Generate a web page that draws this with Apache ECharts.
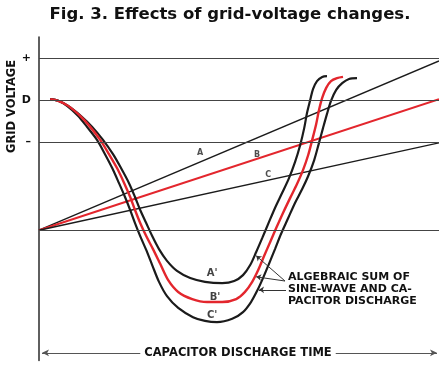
<!DOCTYPE html>
<html>
<head>
<meta charset="utf-8">
<script src="https://cdn.jsdelivr.net/npm/echarts@6/dist/echarts.min.js"></script>
<style>
  html, body { margin: 0; padding: 0; background: #fff; }
  #chart { width: 439px; height: 366px; }
</style>
</head>
<body>
<div id="chart"></div>
<script>
// Time axis: 0..100 (arbitrary units of capacitor discharge time)
// Voltage axis: D = 0, "+" = 10, "-" = -10, base line = -31

// Reference voltage levels and their labels
const levelValues = [10, 0, -10, -31];
const levelLabels = ['+', 'D', '\u2013', ''];

// Bias lines A, B, C (straight)
const biasX = [0, 100];
const biasA = [-31, 9.3];
const biasB = [-31, 0.2];
const biasC = [-31, -10.2];

// Sum curves A', B', C'
const curveAX = [2.8, 4.8, 7.3, 10.5, 13.3, 16, 18.5, 20.5, 22.5, 24, 25.3, 26.8, 28.3, 30, 32, 34.5, 37.8, 41.5, 45.8,
  48.8, 51, 52.8, 54.3, 55.8, 57.3, 59, 60.8, 62.5, 64, 65.3, 66.3, 67, 67.8, 68.5, 69.5, 70.8, 72];
const curveAY = [0.2, -0.2, -1.4, -3.8, -6.4, -9.5, -12.9, -16.2, -19.8, -23.1, -26.2, -29.3, -32.4, -35.5, -38.3, -40.7, -42.4, -43.3, -43.6,
  -43.1, -41.7, -39.3, -36.2, -32.9, -29.5, -25.7, -22.1, -18.6, -14.8, -10.7, -6.7, -3.1, 0, 2.6, 4.5, 5.5, 5.7];

const curveBX = [2.8, 4.8, 7.3, 10.3, 12.8, 15.3, 17.5, 19.5, 21.3, 22.8, 24, 25.3, 26.8, 28.5, 30.3, 32.3, 34.8, 38.3, 42, 45.8,
  49.3, 51.5, 53.3, 54.8, 56.3, 57.8, 59.3, 61, 62.8, 64.5, 66, 67.3, 68.3, 69.3, 70, 70.8, 71.8, 73, 74.5, 76];
const curveBY = [0.2, -0.2, -1.4, -3.8, -6.4, -9.5, -12.9, -16.2, -19.8, -23.1, -26.2, -29.3, -32.4, -35.5, -39, -42.9, -45.7, -47.4, -48.1, -48.1,
  -47.4, -45.7, -43.3, -40.5, -37.1, -33.8, -30.5, -26.9, -23.3, -20, -16.7, -13.1, -9.5, -5.7, -2.4, 0.5, 2.9, 4.5, 5.2, 5.5];

const curveCX = [2.8, 4.8, 7, 9.8, 12, 14.5, 16.5, 18.3, 20, 21.5, 22.8, 24, 25.3, 26.8, 28.3, 30, 32, 34.8, 38.5, 41.5, 44.5,
  48.3, 51, 53, 54.5, 56, 57.5, 59, 60.5, 62.3, 64, 65.8, 67.3, 68.8, 70, 71, 72, 73, 74.3, 75.8, 77.5, 79.5];
const curveCY = [0.2, -0.2, -1.4, -3.8, -6.4, -9.5, -12.9, -16.2, -19.8, -23.1, -26.2, -29.3, -32.4, -35.7, -39.3, -43.3, -46.7, -49.5, -51.7, -52.6, -52.9,
  -52.1, -50.5, -48.1, -45.5, -42.4, -39, -35.5, -31.9, -28.1, -24.5, -21.2, -18.1, -14.3, -10.2, -6.7, -3.3, -0.2, 2.4, 4, 5, 5.2];

// Letter labels on the lines and curves: [x, y, text]
const lineLetters = [[40.3, -12.6, 'A'], [54.5, -13.1, 'B'], [57.3, -17.9, 'C']];
const curveLetters = [[43.3, -41.2, "A'"], [44, -46.9, "B'"], [43.3, -51.2, "C'"]];

// Leader lines from the note to the curves: [fromX, fromY, toX, toY]
const leaders = [[61.5, -43.1, 54.3, -37.1], [61.5, -43.1, 54.3, -42.1], [61.75, -45.2, 55, -45.2]];

// Time span arrow
const spanY = -60.2;
const spanFrom = 0.75;
const spanTo = 99.5;

const BLACK = '#1b1b1b';
const RED = '#e3262d';
const FONT = 'DejaVu Sans';

function zipXY(xs, ys) { return xs.map((x, i) => [x, ys[i]]); }

const chart = echarts.init(document.getElementById('chart'), null, { renderer: 'canvas' });

const option = {
  animation: false,
  backgroundColor: '#fff',
  grid: { left: 39, right: 0, top: 37, bottom: 5.6, containLabel: false },
  xAxis: { type: 'value', min: 0, max: 100, show: false },
  yAxis: {
    type: 'value', min: -62, max: 15,
    axisLine: { show: true, onZero: false, lineStyle: { color: '#2a2a2a', width: 1.5 } },
    axisTick: { show: false }, axisLabel: { show: false }, splitLine: { show: false }
  },
  graphic: [
    {
      type: 'text', x: 230, y: 15, z: 100,
      style: {
        text: 'Fig. 3. Effects of grid-voltage changes.', font: 'bold 16.5px "' + FONT + '"', fill: '#111',
        align: 'center', verticalAlign: 'middle'
      }
    },
    {
      type: 'text', x: 6, y: 153, rotation: Math.PI / 2, z: 100,
      style: { text: 'GRID VOLTAGE', font: 'bold 11.5px "' + FONT + '"', fill: '#111' }
    },
    {
      type: 'text', x: 288, y: 271, z: 100,
      style: {
        text: 'ALGEBRAIC SUM OF\nSINE-WAVE AND CA-\nPACITOR DISCHARGE',
        font: 'bold 11px "' + FONT + '"', fill: '#111', lineHeight: 12
      }
    },
    {
      type: 'text', x: 238, y: 353, z: 100,
      style: {
        text: 'CAPACITOR DISCHARGE TIME', font: 'bold 11.5px "' + FONT + '"', fill: '#111',
        align: 'center', verticalAlign: 'middle',
        backgroundColor: '#fff', padding: [1, 4]
      }
    }
  ],
  series: [
    {
      name: 'levels', type: 'line', data: [], silent: true,
      markLine: {
        silent: true, symbol: ['none', 'none'], animation: false,
        lineStyle: { color: '#444', width: 1, type: 'solid' },
        label: { show: true, position: 'start', formatter: '{b}', color: '#111', fontFamily: FONT, fontWeight: 'bold', fontSize: 11, distance: 8 },
        data: levelValues.map((v, i) => ({ yAxis: v, name: levelLabels[i] }))
      }
    },
    {
      name: 'span', type: 'line', data: [], silent: true,
      markLine: {
        silent: true, symbol: ['arrow', 'arrow'], symbolSize: [5, 7], animation: false,
        lineStyle: { color: '#555', width: 1, type: 'solid' },
        label: { show: false },
        data: [[{ coord: [spanFrom, spanY] }, { coord: [spanTo, spanY] }]]
      }
    },
    {
      name: 'A', type: 'line', data: zipXY(biasX, biasA), showSymbol: false,
      lineStyle: { color: BLACK, width: 1.4 }
    },
    {
      name: 'B', type: 'line', data: zipXY(biasX, biasB), showSymbol: false,
      lineStyle: { color: RED, width: 2 }
    },
    {
      name: 'C', type: 'line', data: zipXY(biasX, biasC), showSymbol: false,
      lineStyle: { color: BLACK, width: 1.4 }
    },
    {
      name: "A'", type: 'line', data: zipXY(curveAX, curveAY), showSymbol: false, smooth: 0.3,
      lineStyle: { color: BLACK, width: 2.2 }
    },
    {
      name: "C'", type: 'line', data: zipXY(curveCX, curveCY), showSymbol: false, smooth: 0.3,
      lineStyle: { color: BLACK, width: 2.2 }
    },
    {
      name: "B'", type: 'line', data: zipXY(curveBX, curveBY), showSymbol: false, smooth: 0.3,
      lineStyle: { color: RED, width: 2.4 }
    },
    {
      name: 'leaders', type: 'line', data: [], silent: true,
      markLine: {
        silent: true, symbol: ['none', 'arrow'], symbolSize: 5, animation: false,
        lineStyle: { color: '#333', width: 1, type: 'solid' }, label: { show: false },
        data: leaders.map(l => [{ coord: [l[0], l[1]] }, { coord: [l[2], l[3]] }])
      }
    },
    {
      name: 'lineLetters', type: 'scatter', data: lineLetters, symbolSize: 0,
      label: { show: true, position: 'inside', formatter: p => p.value[2], color: '#222', fontFamily: FONT, fontSize: 8, fontWeight: 'bold' }
    },
    {
      name: 'curveLetters', type: 'scatter', data: curveLetters, symbolSize: 0,
      label: { show: true, position: 'inside', formatter: p => p.value[2], color: '#111', fontFamily: FONT, fontSize: 10, fontWeight: 'bold' }
    }
  ]
};

chart.setOption(option);
</script>
</body>
</html>
